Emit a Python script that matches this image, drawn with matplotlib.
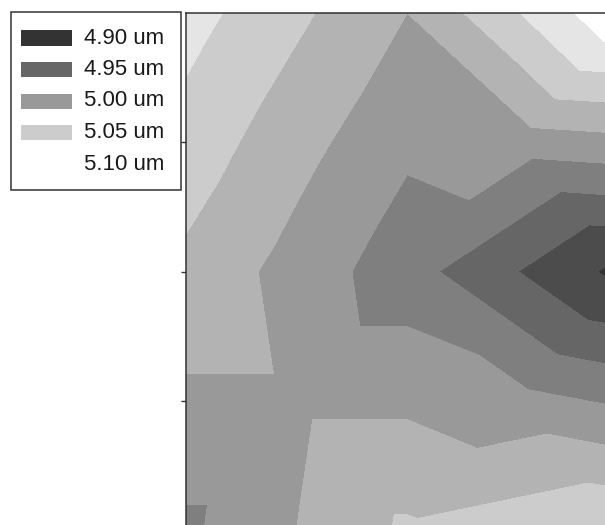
import numpy as np
import matplotlib
matplotlib.use("Agg")
import matplotlib.pyplot as plt
import matplotlib.tri as mtri
from matplotlib.patches import Rectangle

# Measurement grid: 5 x 5 nodes (column index, row index; row 0 at the top)
grid_cols = [0, 1, 2, 3, 4]
grid_rows = [0, 1, 2, 3, 4]

# Thickness at each node, in um (rows top -> bottom)
thickness_row0 = [5.085, 5.055, 5.025, 5.074, 5.125]
thickness_row1 = [5.065, 5.034, 5.005, 5.012, 5.018]
thickness_row2 = [5.044, 5.015, 4.985, 4.950, 4.915]
thickness_row3 = [5.020, 5.020, 5.020, 5.008, 4.995]
thickness_row4 = [4.995, 5.025, 5.054, 5.064, 5.074]

# How each grid cell is split into two triangles: 'm' = TL-BR diagonal, 'a' = TR-BL diagonal
cell_split = [
    ["m", "m", "m", "a"],
    ["m", "m", "a", "m"],
    ["m", "a", "m", "a"],
    ["a", "m", "a", "m"],
]

# Contour levels (um) and the legend entries
contour_levels = [4.80, 4.90, 4.925, 4.95, 4.975, 5.00, 5.025, 5.05, 5.075, 5.10, 5.25]
legend_levels = [4.90, 4.95, 5.00, 5.05, 5.10]


def level_gray(v):
    """Gray shade for a thickness level: dark at 4.90 um, white at 5.10 um."""
    g = 51 + (v - 4.90) / 0.20 * 204
    g = min(max(g, 0), 255) / 255.0
    return (g, g, g)


W, H = 605, 525
fig = plt.figure(figsize=(W / 100, H / 100), dpi=100)
fig.patch.set_facecolor("white")

# Build the triangulated mesh
nx, ny = len(grid_cols), len(grid_rows)
X, Y = np.meshgrid(grid_cols, grid_rows)
Z = np.array([thickness_row0, thickness_row1, thickness_row2,
              thickness_row3, thickness_row4])
triangles = []
for j in range(ny - 1):
    for i in range(nx - 1):
        tl, tr = j * nx + i, j * nx + i + 1
        bl, br = (j + 1) * nx + i, (j + 1) * nx + i + 1
        if cell_split[j][i] == "m":
            triangles += [[tl, tr, br], [tl, br, bl]]
        else:
            triangles += [[tl, tr, bl], [tr, br, bl]]
tri = mtri.Triangulation(X.ravel().astype(float), Y.ravel().astype(float),
                         triangles=np.array(triangles))

# Plot area (extends past the right and bottom edges of the canvas)
left_px, top_px, right_px, bottom_px = 185.5, 13, 629, 530
ax = fig.add_axes([left_px / W, 1 - bottom_px / H,
                   (right_px - left_px) / W, (bottom_px - top_px) / H])

band_colors = [level_gray(4.80 if k == 0 else contour_levels[k])
               for k in range(len(contour_levels) - 1)]
band_colors[0] = (0.12, 0.12, 0.12)
band_colors[-1] = (1, 1, 1)
ax.tricontourf(tri, Z.ravel(), levels=contour_levels, colors=band_colors)

ax.set_xlim(grid_cols[0], grid_cols[-1])
ax.set_ylim(grid_rows[-1], grid_rows[0])
ax.set_xticks([])
ax.set_yticks(grid_rows[1:-1])
ax.set_yticklabels([])
ax.tick_params(axis="y", direction="out", length=3.5, width=1.0, color="#333333")
for s in ax.spines.values():
    s.set_color("#333333")
    s.set_linewidth(1.1)

# Legend box drawn in figure pixels
def fx(x):
    return x / W


def fy(y):
    return 1 - y / H


box = Rectangle((fx(11), fy(190)), fx(181) - fx(11), fy(12) - fy(190),
                transform=fig.transFigure, facecolor="white",
                edgecolor="#333333", linewidth=1.1)
fig.add_artist(box)
row_y0, row_step = 38, 31.5
for k, v in enumerate(legend_levels):
    yc = row_y0 + k * row_step
    sw = Rectangle((fx(21), fy(yc + 7.5)), fx(72) - fx(21), fy(yc - 7.5) - fy(yc + 7.5),
                   transform=fig.transFigure, facecolor=level_gray(v),
                   edgecolor="none")
    fig.add_artist(sw)
    fig.text(fx(84), fy(yc), f"{v:.2f} um", transform=fig.transFigure,
             ha="left", va="center", fontsize=16, color="#1a1a1a",
             family=["Liberation Sans", "DejaVu Sans"])

fig.savefig("out.png", dpi=100, facecolor="white")
